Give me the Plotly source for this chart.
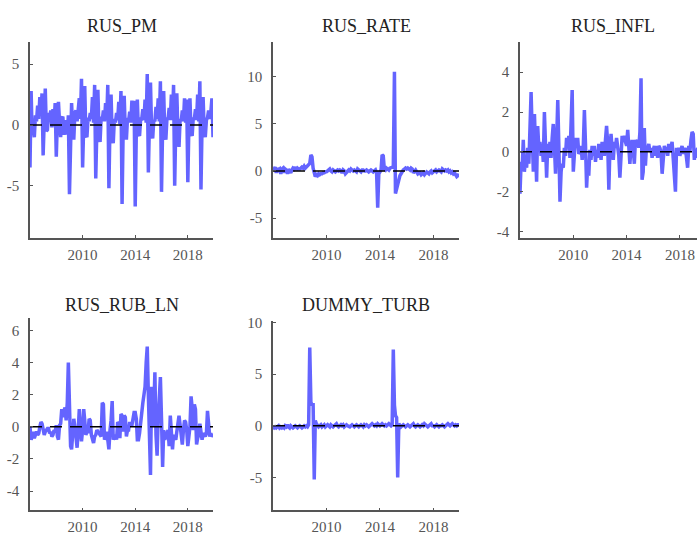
import pandas as pd
import plotly.graph_objects as go

# ---------------- data (monthly, 2006-01 .. 2019-12) ----------------
dates = pd.date_range("2006-01-01", periods=168, freq="MS")

rus_pm = [
    -3.5, 2.8, -0.8, -0.3, -1.0, 0.8, 0.3, 1.6, 0.5, 2.3, 1.0, 2.6,
    -2.5, 1.2, 3.0, -0.5, -0.4, 1.0, 0.6, 1.2, -0.2, 1.3, 0.3, 1.8,
    -2.6, 0.5, 1.9, 0.2, -1.0, 0.5, 0.7, -0.8, 0.2, 0.4, -0.8, 0.8,
    -5.7, -0.5, 1.8, -0.4, -1.2, 1.0, 1.2, 0.3, 1.6, 2.2, 0.5, 3.8,
    -3.5, 0.5, 3.2, -0.8, -1.0, 0.6, 0.3, 1.0, 0.5, 2.3, 0.2, 3.3,
    -4.4, -0.3, 2.9, -0.6, -1.4, 0.7, 0.4, 1.2, 0.3, 1.8, 0.4, 3.3,
    -5.2, 0.2, 2.5, -1.0, -1.5, 0.5, 0.2, 1.0, 0.4, 1.9, 0.1, 2.8,
    -6.5, -0.2, 2.4, -0.6, -1.2, 0.6, 0.3, 1.1, 0.2, 2.0, 0.3, 2.0,
    -6.7, -0.4, 2.1, -0.7, -0.9, 0.5, 0.5, 1.3, 0.4, 2.1, 0.2, 4.2,
    -3.9, 0.4, 3.5, -0.5, -1.1, 0.4, 0.3, 1.5, 0.5, 2.2, 0.3, 3.6,
    -5.5, -0.2, 2.8, -0.8, -1.2, 0.6, 0.5, 1.4, 0.4, 2.5, 0.4, 3.3,
    -5.0, 0.1, 2.6, -0.5, -1.8, 0.5, 0.3, 1.2, 0.3, 2.2, 0.2, 2.1,
    -4.7, 0.3, 2.2, -0.6, -0.9, 0.6, 0.5, 1.3, 0.4, 2.5, 0.3, 3.6,
    -5.3, 0.2, 2.3, -0.6, -1.0, 0.4, 0.6, 1.2, 0.5, 1.0, 2.2, -1.0,
]

rus_rate = [
    0.3, 0.2, 0.4, -0.2, 0.3, 0.1, 0.2, -0.3, 0.2, 0.3, -0.2, 0.2,
    0.1, -0.3, 0.2, 0.0, -0.2, 0.1, 0.3, 0.2, 0.4, 0.1, 0.3, 0.2,
    0.2, 0.3, 0.4, 0.3, 0.5, 0.3, 0.4, 0.5, 0.6, 0.8, 1.7, 1.5,
    0.3, -0.5, -0.6, -0.4, -0.5, -0.3, -0.4, -0.3, -0.3, -0.2, -0.2, -0.1,
    -0.1, 0.0, 0.1, 0.2, 0.0, -0.1, 0.1, 0.0, -0.1, 0.0, 0.1, 0.0,
    0.1, 0.0, -0.2, 0.1, 0.0, -0.3, -0.2, 0.0, 0.1, 0.0, 0.2, 0.1,
    0.0, 0.1, 0.0, -0.1, 0.2, 0.1, 0.0, -0.1, 0.1, 0.1, 0.0, 0.0,
    0.1, 0.0, -0.1, 0.0, 0.1, 0.0, -0.1, 0.0, 0.1, -0.2, -3.9, -0.3,
    0.0, 0.1, 1.7, 1.6, 0.2, 0.1, 0.3, 0.2, 0.1, 0.3, 0.4, 0.4,
    0.4, 10.5, -2.4, -1.8, -1.3, -0.9, -0.5, -0.3, 0.0, 0.1, 0.2, 0.3,
    0.2, 0.3, 0.2, 0.1, 0.3, 0.2, -0.2, 0.0, 0.1, -0.1, -0.3, -0.2,
    -0.2, -0.4, -0.3, -0.2, -0.4, -0.3, -0.1, -0.2, -0.3, -0.1, 0.0, -0.2,
    -0.1, 0.0, 0.1, -0.1, 0.0, 0.1, 0.0, -0.1, 0.2, 0.1, 0.0, 0.1,
    0.0, 0.1, -0.1, 0.0, -0.2, -0.1, -0.3, -0.2, -0.4, -0.6, -0.5, -0.3,
]

rus_infl = [
    -2.1, -0.5, -0.9, 0.6, -1.0, -0.3, -0.8, 0.2, -0.6, 1.2, 3.0, 1.0,
    -1.0, 1.9, 0.3, -1.5, 1.3, 0.2, 0.5, -0.2, 0.4, -0.5, 2.0, 0.6,
    -1.3, 0.4, -0.3, 0.5, -0.3, 0.7, 1.4, 0.3, -1.1, 0.5, 2.6, 0.3,
    -2.5, -1.0, -0.6, -0.8, 0.2, -0.2, 0.7, 0.3, 0.8, -0.3, 1.5, 3.1,
    -1.0, 0.2, 0.7, 0.3, 0.7, -0.1, 0.0, 0.3, -0.4, 0.2, 2.1, 0.4,
    -1.8, -0.6, -1.2, 0.1, -0.4, 0.3, -0.2, 0.3, -0.5, 0.1, -0.3, 0.4,
    0.2, -0.4, 0.5, 0.3, -0.2, 0.6, 1.3, 0.4, -1.9, 0.2, 0.9, 0.1,
    -0.4, 0.5, 0.2, 0.7, 0.3, -0.2, -1.3, 0.4, 0.8, 0.5, 0.8, 0.5,
    0.3, 1.1, 0.1, -0.6, 0.2, 0.6, 0.2, -0.6, 0.6, 0.4, 0.6, 0.2,
    1.0, 3.7, -1.4, -1.0, 1.2, -0.7, 0.3, 0.1, 0.4, 0.0, 0.2, -0.3,
    0.1, 0.3, -0.2, 0.3, -0.3, 0.3, 0.2, 0.0, -1.1, -0.3, 0.3, 0.1,
    0.2, -0.2, 0.4, 0.0, 0.3, 0.5, -0.3, -1.2, -2.0, 0.2, 0.0, 0.2,
    -0.2, 0.1, 0.3, -0.1, 0.1, 0.2, -0.3, -0.8, 0.3, 0.0, 0.6, 1.0,
    0.9, -0.4, 0.1, -0.3, 0.2, 0.0, -0.2, 0.3, 0.1, -0.1, 0.2, 0.0,
]

rus_rub_ln = [
    0.0, -0.8, -0.6, -0.3, -0.7, -0.4, -0.3, -0.5, -0.4, 0.0, 0.3, 0.2,
    -0.2, -0.5, -0.3, -0.2, -0.1, -0.1, -0.4, -0.3, -0.6, -0.5, -0.2, -0.3,
    0.1, -0.6, -0.8, 0.1, 0.2, 1.1, 0.6, 1.0, 1.2, 0.4, 1.5, 4.0,
    1.5, -1.2, -1.4, -0.6, 0.5, 0.0, -0.7, -1.3, -0.2, 1.1, -0.2, -0.9,
    -0.2, 1.1, 0.4, -0.5, -0.3, -0.3, 0.5, 0.4, -0.5, -0.7, -1.0, -0.6,
    -0.5, -0.2, -0.3, -0.4, -0.5, -0.6, 1.5, 1.4, -0.8, -0.5, -0.3, -0.8,
    -1.4, -0.2, 0.4, 1.6, -0.8, -0.6, -0.5, -0.8, 0.3, 0.2, -0.7, 0.8,
    0.7, -0.3, 0.7, 0.6, -0.6, -0.2, -0.2, 0.3, 0.1, 0.1, 0.4, 0.9,
    0.9, 0.5, -0.8, -0.8, -0.4, 0.4, 1.0, 1.5, 2.0, 2.5, 4.0, 5.0,
    2.0, -1.5, -3.0, 2.5, 0.0, 1.0, 3.4, -0.5, -1.8, 0.5, 1.5, 3.1,
    0.5, -2.5, -0.2, -0.8, -0.6, -0.4, -0.2, -1.2, 0.7, -0.3, -1.4, -0.5,
    -0.7, -0.8, -0.3, 0.2, 0.7, 0.1, -0.6, -1.1, -0.2, 0.4, 0.3, -0.2,
    -1.2, -0.4, 0.0, 1.9, 1.2, -0.2, 1.4, 1.1, -1.1, -0.7, -0.5, 0.2,
    -0.3, -0.8, -0.4, -0.5, -0.6, -0.4, 1.0, 0.2, -0.6, -0.4, -0.6, -0.5,
]

dummy_turb = [
    -0.1, -0.2, -0.1, -0.2, -0.1, 0.0, -0.2, -0.1, -0.2, -0.1, -0.2, 0.0,
    -0.1, 0.1, -0.1, -0.2, 0.0, -0.1, -0.2, -0.1, 0.0, -0.1, -0.2, -0.1,
    0.0, -0.1, -0.2, -0.1, 0.0, -0.1, 0.0, -0.1, 0.1, 7.6, 2.3, 2.0,
    2.2, -5.2, 0.5, 0.2, 0.0, -0.1, 0.0, 0.1, -0.1, 0.0, 0.1, -0.1,
    0.0, 0.1, 0.0, -0.1, 0.1, 0.0, -0.1, 0.0, 0.1, 0.2, 0.0, -0.1,
    0.0, 0.1, 0.0, 0.1, -0.1, 0.0, 0.1, 0.0, -0.1, -0.1, 0.0, 0.1,
    0.0, -0.1, 0.0, 0.1, 0.0, -0.1, 0.0, 0.1, 0.0, -0.1, 0.1, 0.0,
    0.1, 0.0, -0.1, 0.0, 0.1, 0.2, 0.1, 0.0, 0.1, 0.0, 0.2, 0.1,
    0.0, 0.1, 0.2, 0.1, 0.0, 0.1, 0.0, 0.1, 0.2, 0.1, 0.0, 0.1,
    7.4, 2.0, 1.0, 0.8, -5.0, 0.2, 0.0, -0.1, 0.0, 0.1, 0.0, -0.1,
    0.0, 0.1, 0.0, -0.1, 0.0, 0.1, 0.2, 0.0, -0.1, 0.0, 0.1, 0.0,
    -0.1, 0.0, 0.1, 0.0, 0.2, 0.1, 0.0, -0.1, 0.0, 0.1, 0.2, 0.0,
    0.0, -0.1, 0.0, 0.1, 0.0, -0.1, 0.0, 0.0, 0.1, 0.0, -0.1, 0.0,
    0.1, 0.2, 0.1, 0.0, 0.1, 0.2, 0.1, 0.0, 0.1, 0.0, 0.1, 0.1,
]

titles = ["RUS_PM", "RUS_RATE", "RUS_INFL", "RUS_RUB_LN", "DUMMY_TURB"]
series = [rus_pm, rus_rate, rus_infl, rus_rub_ln, dummy_turb]
x_tick_years = ["2010", "2014", "2018"]
y_ticks = [
    [-5, 0, 5],
    [-5, 0, 5, 10],
    [-4, -2, 0, 2, 4],
    [-4, -2, 0, 2, 4, 6],
    [-5, 0, 5, 10],
]

# ---------------- layout (pixel boxes) ----------------
W, H = 697, 535
boxes = [  # left, right, top, bottom in px
    (30, 213, 37, 236),
    (273, 459, 37, 236),
    (520, 697, 37, 236),
    (30, 213, 317, 513),
    (273, 459, 320, 513),
]
y_ranges = [[-9.3, 6.8], [-7.1, 13.6], [-4.33, 5.5], [-5.2, 6.8], [-8.2, 10.2]]
x_end = ["2019-12-01", "2019-12-01", "2019-04-15", "2019-12-01", "2019-12-01"]
title_y = [20, 20, 20, 304, 304]

FONT = "Liberation Serif"
AX = "#555555"
BLUE = "rgb(100,100,255)"

fig = go.Figure()
layout = dict(
    width=W, height=H, margin=dict(l=0, r=0, t=0, b=0),
    paper_bgcolor="white", plot_bgcolor="white", showlegend=False,
    annotations=[],
)

for i, (ttl, ser) in enumerate(zip(titles, series)):
    n = "" if i == 0 else str(i + 1)
    xa, ya = "x" + n, "y" + n
    l, r, t, b = boxes[i]
    fig.add_trace(go.Scatter(
        x=dates, y=ser, mode="lines", xaxis=xa, yaxis=ya,
        line=dict(color=BLUE, width=3.5), hoverinfo="skip",
    ))
    fig.add_trace(go.Scatter(
        x=[dates[0], dates[-1]], y=[0, 0], mode="lines", xaxis=xa, yaxis=ya,
        line=dict(color="black", width=1.5, dash="12px,8px"), hoverinfo="skip",
    ))
    common = dict(
        showline=True, linecolor=AX, linewidth=1.5, showgrid=False,
        zeroline=False, ticks="inside", ticklen=3, tickcolor=AX,
        tickfont=dict(family=FONT, size=15, color="#555555"),
    )
    layout["xaxis" + n] = dict(
        common, domain=[l / W, r / W], anchor=ya,
        range=[dates[0], x_end[i]],
        tickvals=[y + "-01-01" for y in x_tick_years], ticktext=x_tick_years,
        ticklabelstandoff=2,
    )
    layout["yaxis" + n] = dict(
        common, domain=[1 - b / H, 1 - t / H], anchor=xa,
        range=y_ranges[i], tickvals=y_ticks[i],
        ticktext=[str(v) for v in y_ticks[i]], ticklabelstandoff=6,
    )
    layout["annotations"].append(dict(
        text=ttl, xref="paper", yref="paper",
        x=(l + (boxes[i][1] if i != 2 else 706)) / 2 / W, y=1 - title_y[i] / H,
        xanchor="center", yanchor="middle", showarrow=False,
        font=dict(family=FONT, size=18, color="#222222"),
    ))

fig.update_layout(**layout)
fig.write_html("out.html")
